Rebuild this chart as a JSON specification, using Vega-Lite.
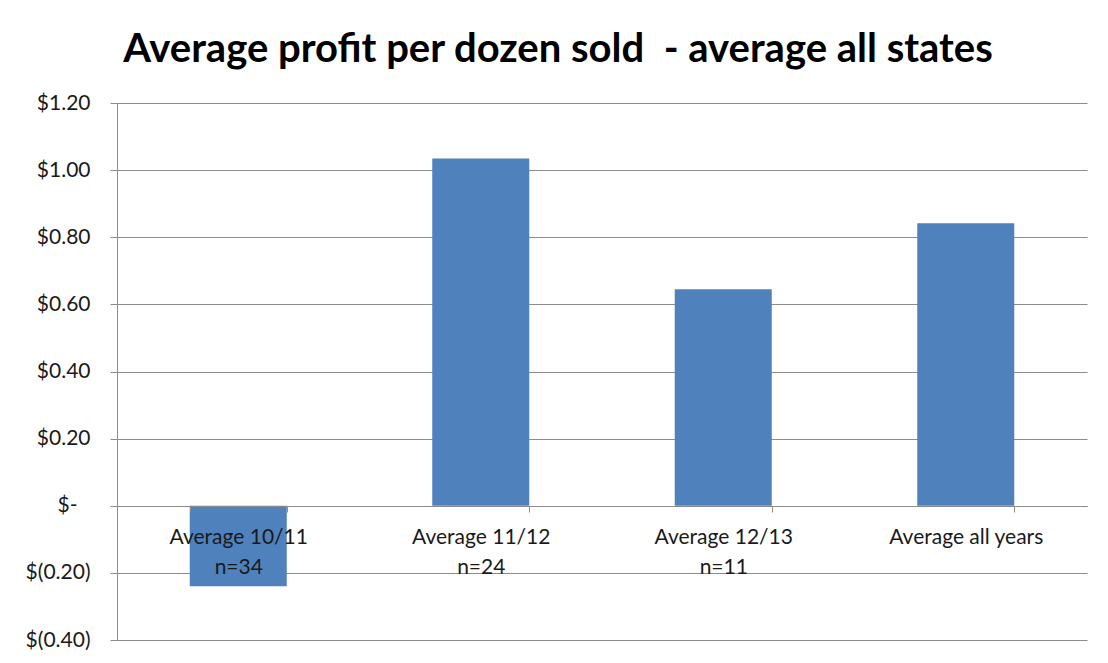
{
  "$schema": "https://vega.github.io/schema/vega-lite/v6.json",
  "autosize": "none",
  "width": 970,
  "height": 537,
  "padding": {"left": 117, "top": 103, "right": 21, "bottom": 23},
  "background": "white",
  "title": {
    "text": "Average profit per dozen sold \u00a0- average all states",
    "font": "Lato",
    "fontSize": 40,
    "fontWeight": "bold",
    "color": "black",
    "anchor": "middle",
    "dx": -44,
    "baseline": "alphabetic",
    "offset": -10
  },
  "data": {
    "values": [
      {"category": "Average 10/11\nn=34", "profit": -0.24},
      {"category": "Average 11/12\nn=24", "profit": 1.035},
      {"category": "Average 12/13\nn=11", "profit": 0.645},
      {"category": "Average all years", "profit": 0.842}
    ]
  },
  "mark": {"type": "bar", "color": "#4F81BD"},
  "encoding": {
    "x": {
      "field": "category",
      "type": "nominal",
      "sort": null,
      "scale": {"paddingInner": 0.6, "paddingOuter": 0.3},
      "axis": {
        "title": null,
        "orient": "bottom",
        "offset": -134,
        "domainColor": "#8C8C8C",
        "tickColor": "#8C8C8C",
        "tickBand": "extent",
        "tickSize": 6,
        "labelAngle": 0,
        "labelFont": "Lato",
        "labelFontSize": 21,
        "labelColor": "#1a1a1a",
        "labelPadding": 14,
        "labelLineHeight": 30,
        "labelExpr": "split(datum.label, '\\n')",
        "zindex": 1
      }
    },
    "y": {
      "field": "profit",
      "type": "quantitative",
      "scale": {"domain": [-0.4, 1.2], "nice": false, "zero": false},
      "axis": {
        "title": null,
        "values": [-0.4, -0.2, 0, 0.2, 0.4, 0.6, 0.8, 1.0, 1.2],
        "grid": true,
        "gridColor": "#8C8C8C",
        "gridWidth": 1,
        "domainColor": "#8C8C8C",
        "tickColor": "#8C8C8C",
        "tickSize": 7,
        "labelFont": "Lato",
        "labelFontSize": 21,
        "labelColor": "#1a1a1a",
        "labelPadding": {"condition": {"test": "datum.value == 0", "value": 33}, "value": 20},
        "labelExpr": "datum.value == 0 ? '$-' : (datum.value < 0 ? '$(' + format(-datum.value, '.2f') + ')' : '$' + format(datum.value, '.2f'))"
      }
    }
  },
  "config": {
    "view": {"stroke": null}
  }
}
